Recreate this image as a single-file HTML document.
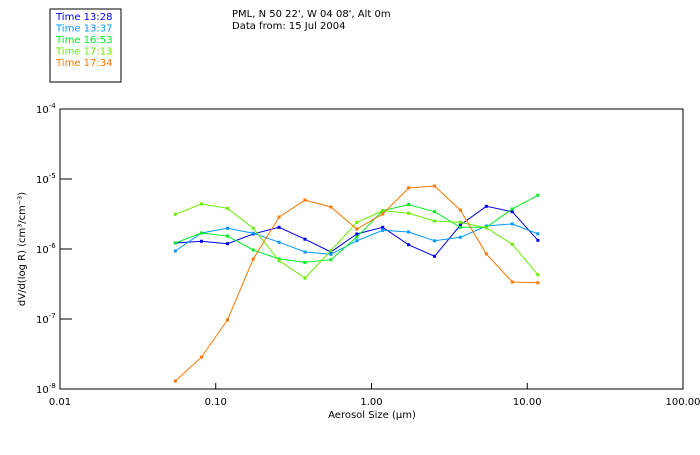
<!DOCTYPE html>
<html><head><meta charset="utf-8"><style>
body{margin:0;background:#fff;}
svg text{font-family:"DejaVu Sans","Liberation Sans",sans-serif;font-size:10px;}
</style></head><body>
<svg id="c" width="700" height="450" viewBox="0 0 700 450">
<rect x="50" y="9" width="71" height="73" fill="none" stroke="#000" stroke-width="1"/>
<text x="232" y="17">PML, N 50 22', W 04 08', Alt 0m</text>
<text x="232" y="29">Data from: 15 Jul 2004</text>
<rect x="60" y="109" width="623" height="280" fill="none" stroke="#000"/>
<text transform="translate(25,249) rotate(-90)" text-anchor="middle">dV/d(log R) (cm³/cm⁻³)</text>
<text x="372" y="418" text-anchor="middle">Aerosol Size (μm)</text>
<g id="g"></g>
</svg>
<script>
const sizes=[0.055,0.081,0.119,0.174,0.255,0.374,0.549,0.805,1.18,1.73,2.54,3.72,5.46,8.01,11.7];
const xTicks=[0.01,0.1,1,10,100];
const xTickLabels=["0.01","0.10","1.00","10.00","100.00"];
const yTicks=[-4,-5,-6,-7,-8];
const seriesNames=["Time 13:28","Time 13:37","Time 16:53","Time 17:13","Time 17:34"];
const s1328=[1.22e-6,1.29e-6,1.19e-6,1.64e-6,2.04e-6,1.38e-6,9.06e-7,1.64e-6,2.04e-6,1.15e-6,7.87e-7,2.2e-6,4.07e-6,3.41e-6,1.33e-6];
const s1337=[9.36e-7,1.69e-6,1.98e-6,1.68e-6,1.25e-6,9.06e-7,8.4e-7,1.31e-6,1.85e-6,1.75e-6,1.31e-6,1.47e-6,2.13e-6,2.28e-6,1.65e-6];
const s1653=[1.22e-6,1.69e-6,1.53e-6,9.68e-7,7.2e-7,6.45e-7,7.03e-7,1.48e-6,3.52e-6,4.3e-6,3.41e-6,2.04e-6,2.04e-6,3.73e-6,5.85e-6];
const s1713=[3.13e-6,4.4e-6,3.81e-6,1.98e-6,6.8e-7,3.85e-7,9.46e-7,2.4e-6,3.52e-6,3.24e-6,2.51e-6,2.4e-6,2.01e-6,1.17e-6,4.3e-7];
const s1734=[1.3e-8,2.86e-8,9.7e-8,7.2e-7,2.86e-6,5.0e-6,3.98e-6,1.93e-6,3.16e-6,7.44e-6,7.94e-6,3.6e-6,8.5e-7,3.38e-7,3.3e-7];
const colors=["#0000f0","#0099ff","#00ee22","#66ee00","#ff7700"];
const series=[s1328,s1337,s1653,s1713,s1734];
const X=v=>60+(Math.log10(v)+2)*155.75;
const Y=v=>109+(-4-Math.log10(v))*70;
const NS="http://www.w3.org/2000/svg";
const g=document.getElementById('g');
function mk(t,a){const e=document.createElementNS(NS,t);for(const k in a)e.setAttribute(k,a[k]);g.appendChild(e);return e;}
xTicks.forEach((t,i)=>{
 const l=mk('line',{x1:X(t),x2:X(t),y1:389,y2:383,stroke:'#000'});
 
 
 const tx=mk('text',{x:X(t),y:405,'text-anchor':'middle'});tx.textContent=xTickLabels[i];
 
 
});
yTicks.forEach(p=>{
 const y=Y(Math.pow(10,p));
 const l=mk('line',{x1:60,x2:72,y1:y,y2:y,stroke:'#000'});
 
 
 const tx=mk('text',{x:36,y:y+4});
 tx.innerHTML='10<tspan dy="-5" font-size="7">'+p+'</tspan>';
 
 
});
series.forEach((s,i)=>{
 const pts=s.map((v,j)=>X(sizes[j]).toFixed(1)+','+Y(v).toFixed(1)).join(' ');
 const pl=mk('polyline',{points:pts,fill:'none',stroke:colors[i],'stroke-width':1});
 
 
 s.forEach((v,j)=>{
  const r=mk('rect',{x:X(sizes[j])-1.5,y:Y(v)-1.5,width:3,height:3,fill:colors[i]});
  
  
 });
 const lt=mk('text',{x:56,y:20+i*11.5,fill:colors[i]});lt.textContent=seriesNames[i];
 
 
});
</script>
</body></html>
